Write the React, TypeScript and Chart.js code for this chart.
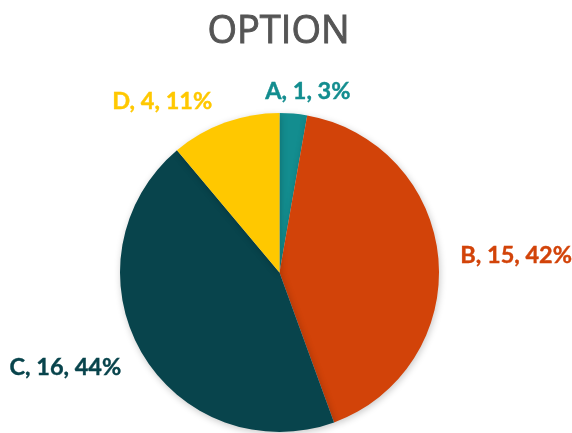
import React, { useEffect, useRef } from "react";
import { Chart, registerables } from "chart.js";

Chart.register(...registerables);

const categories = ["A", "B", "C", "D"];
const values = [1, 15, 16, 4];
const percents = ["3%", "42%", "44%", "11%"];
const colors = ["#138D8F", "#D24309", "#08444C", "#FFC800"];
const titleText = "OPTION";

const shadowPlugin = {
  id: "shadowPlugin",
  beforeDatasetDraw(chart: any) {
    const ctx = chart.ctx;
    ctx.save();
    ctx.shadowColor = "rgba(0,0,0,0.22)";
    ctx.shadowBlur = 7;
    ctx.shadowOffsetX = 1;
    ctx.shadowOffsetY = 2;
  },
  afterDatasetDraw(chart: any) {
    chart.ctx.restore();
  },
};

const titlePlugin = {
  id: "titlePlugin",
  afterDraw(chart: any) {
    const ctx = chart.ctx;
    const area = chart.chartArea;
    ctx.save();
    ctx.font = "38px 'Open Sans'";
    ctx.textAlign = "center";
    ctx.textBaseline = "alphabetic";
    ctx.fillStyle = "#555555";
    ctx.strokeStyle = "#555555";
    ctx.lineWidth = 0.9;
    const cx = (area.left + area.right) / 2 - 1;
    ctx.fillText(titleText, cx, 43);
    ctx.strokeText(titleText, cx, 43);
    ctx.restore();
  },
};

const labelPlugin = {
  id: "labelPlugin",
  afterDatasetsDraw(chart: any) {
    const ctx = chart.ctx;
    const meta = chart.getDatasetMeta(0);
    ctx.save();
    ctx.font = "bold 23.5px Lato";
    ctx.textAlign = "center";
    ctx.textBaseline = "middle";
    ctx.lineWidth = 0.4;
    meta.data.forEach((arc: any, i: number) => {
      const { x, y, startAngle, endAngle, outerRadius } = arc.getProps(
        ["x", "y", "startAngle", "endAngle", "outerRadius"],
        true
      );
      const mid = (startAngle + endAngle) / 2;
      const cos = Math.cos(mid);
      const sin = Math.sin(mid);
      const r = outerRadius + 14;
      const ax = x + cos * r;
      const ay = y + sin * r;
      const text = `${categories[i]}, ${values[i]}, ${percents[i]}`;
      const w = ctx.measureText(text).width;
      const h = 17;
      const clamp = (v: number) => Math.max(-1, Math.min(1, v));
      const cx = ax + clamp(cos * 3) * (w / 2 + 8);
      const cy = ay + clamp(sin * 2) * (h / 2);
      ctx.fillStyle = colors[i];
      ctx.strokeStyle = colors[i];
      ctx.fillText(text, cx, cy);
      ctx.strokeText(text, cx, cy);
    });
    ctx.restore();
  },
};

export default function App() {
  const ref = useRef<HTMLCanvasElement | null>(null);
  useEffect(() => {
    document.body.style.margin = "0";
    const chart = new Chart(ref.current as HTMLCanvasElement, {
      type: "pie",
      data: {
        labels: categories,
        datasets: [
          {
            data: values,
            backgroundColor: colors,
            borderWidth: 0,
          },
        ],
      },
      options: {
        animation: false,
        responsive: false,
        layout: { padding: { top: 113, bottom: 1, left: 0, right: 13 } },
        plugins: {
          legend: { display: false },
          tooltip: { enabled: false },
          title: { display: false },
        },
      },
      plugins: [shadowPlugin, labelPlugin, titlePlugin],
    });
    return () => chart.destroy();
  }, []);
  return <canvas ref={ref} width={572} height={433} style={{ display: "block" }} />;
}
